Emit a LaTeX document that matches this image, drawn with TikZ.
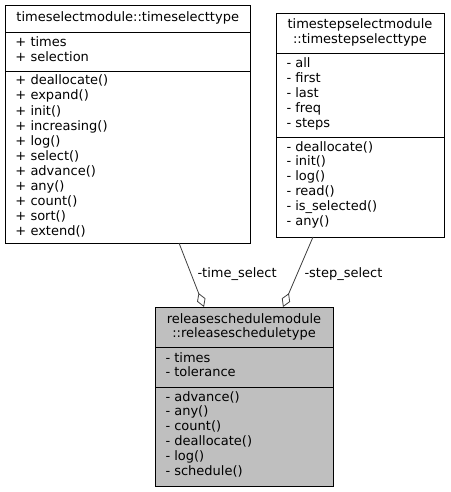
\documentclass[tikz,border=0pt]{standalone}
\usepackage{fontspec}
\setmainfont{DejaVu Sans}
\usetikzlibrary{arrows.meta}
\definecolor{edgegray}{RGB}{64,64,64}
\definecolor{boxgray}{RGB}{191,191,191}
\begin{document}
\begin{tikzpicture}[x=1pt,y=-1pt,
  box/.style={draw=black, line width=0.9pt, anchor=north west, inner sep=0pt, outer sep=0pt},
  txt/.style={anchor=base west, inner sep=0pt, outer sep=0pt, font=\fontsize{13}{15}\selectfont},
  ttl/.style={anchor=base, inner sep=0pt, outer sep=0pt, font=\fontsize{13}{15}\selectfont},
  sep/.style={draw=black, line width=0.9pt},
  edge/.style={draw=edgegray, line width=0.8pt, -{Diamond[open, length=15pt, width=9pt, line width=0.8pt]}}
]
\useasboundingbox (0,0) rectangle (450,492);

% Box 1: timeselecttype
\node[box, minimum width=245.5pt, minimum height=238pt, fill=white] (tsel) at (5,5) {};
\draw[sep] (5,32) -- (250.5,32);
\draw[sep] (5,71) -- (250.5,71);
\node[ttl] (tselT) at (127.75,22) {timeselectmodule::timeselecttype};
\foreach [count=\i] \t in {+ times, + selection}
  \node[txt, name=tselA\i] at (15.5,{47+14.9*(\i-1)}) {\t};
\foreach [count=\i] \t in {+ deallocate(), + expand(), + init(), + increasing(), + log(), + select(), + advance(), + any(), + count(), + sort(), + extend()}
  \node[txt, name=tselM\i] at (15.5,{85+15*(\i-1)}) {\t};

% Box 2: timestepselecttype
\node[box, minimum width=168pt, minimum height=224pt, fill=white] (tstep) at (276,13) {};
\draw[sep] (276,53) -- (444,53);
\draw[sep] (276,137) -- (444,137);
\node[ttl] (tstepT1) at (360,29) {timestepselectmodule};
\node[ttl] (tstepT2) at (360,43.5) {::timestepselecttype};
\foreach [count=\i] \t in {- all, - first, - last, - freq, - steps}
  \node[txt, name=tstepA\i] at (286.5,{68+14.9*(\i-1)}) {\t};
\foreach [count=\i] \t in {- deallocate(), - init(), - log(), - read(), - is\_selected(), - any()}
  \node[txt, name=tstepM\i] at (286.5,{151+14.9*(\i-1)}) {\t};

% Box 3: releasescheduletype
\node[box, minimum width=178pt, minimum height=179pt, fill=boxgray] (rel) at (155,307) {};
\draw[sep] (155,347) -- (333,347);
\draw[sep] (155,387) -- (333,387);
\node[ttl] (relT1) at (244,323) {releaseschedulemodule};
\node[ttl] (relT2) at (244,337.5) {::releasescheduletype};
\foreach [count=\i] \t in {- times, - tolerance}
  \node[txt, name=relA\i] at (165.5,{362+14.9*(\i-1)}) {\t};
\foreach [count=\i] \t in {- advance(), - any(), - count(), - deallocate(), - log(), - schedule()}
  \node[txt, name=relM\i] at (165.5,{401+14.9*(\i-1)}) {\t};

% Edges
\draw[edge] ([xshift=174pt]tsel.south west) -- ([xshift=49pt]rel.north west);
\draw[edge] ([xshift=37pt]tstep.south west) -- ([xshift=128pt]rel.north west);
\node[txt] (lbl1) at (197.5,277) {-time\_select};
\node[txt] (lbl2) at (304.5,277) {-step\_select};
\end{tikzpicture}
\end{document}
